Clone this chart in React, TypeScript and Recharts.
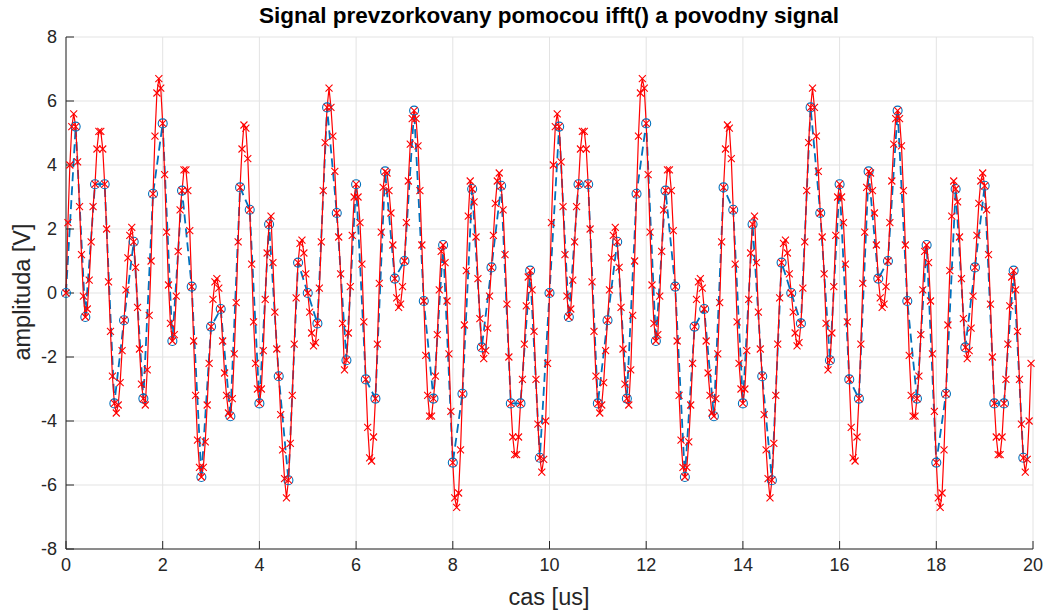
import { LineChart, Line, XAxis, YAxis, CartesianGrid } from 'recharts';

// casove znacky [us] a amplitudy [V]
const xTicks = [0, 2, 4, 6, 8, 10, 12, 14, 16, 18, 20];
const yTicks = [-8, -6, -4, -2, 0, 2, 4, 6, 8];

// povodny signal, krok 0.2 us, jedna perioda (0 .. 9.8 us)
const povodny = [
  0, 5.2, -0.75, 3.4, 3.4, -3.45, -0.85, 1.6, -3.3, 3.1,
  5.3, -1.5, 3.2, 0.2, -5.75, -1.05, -0.5, -3.85, 3.3, 2.6,
  -3.45, 2.15, -2.6, -5.85, 0.95, 0, -0.95, 5.8, 2.5, -2.1,
  3.4, -2.7, -3.3, 3.8, 0.45, 1.0, 5.7, -0.25, -3.3, 1.5,
  -5.3, -3.15, 3.25, -1.7, 0.8, 3.35, -3.45, -3.45, 0.7, -5.15,
];

// signal prevzorkovany pomocou ifft(), krok 0.04 us, jedna perioda
// (kazdy riadok = 0.2 us, prvy prvok lezi na vzorke povodneho signalu)
const prevzorkovany = [
  0, 2.2, 4.0, 5.2, 5.6,
  5.2, 4.1, 2.7, 1.2, -0.1,
  -0.75, -0.5, 0.4, 1.6, 2.7,
  3.4, 4.5, 5.05, 5.05, 4.5,
  3.4, 2.0, 0.35, -1.2, -2.6,
  -3.45, -3.75, -3.5, -2.8, -1.8,
  -0.85, 0.1, 1.1, 1.8, 2.05,
  1.6, 0.8, -0.45, -1.75, -2.85,
  -3.3, -3.5, -2.4, -0.7, 1.0,
  3.1, 4.9, 6.25, 6.7, 6.4,
  5.3, 3.7, 1.9, 0.25, -0.95,
  -1.5, -1.3, -0.1, 1.3, 2.6,
  3.2, 3.85, 3.85, 3.2, 1.95,
  0.2, -1.5, -3.2, -4.6, -5.45,
  -5.75, -5.45, -4.65, -3.5, -2.2,
  -1.05, -0.2, 0.35, 0.45, 0.15,
  -0.5, -1.5, -2.5, -3.2, -3.75,
  -3.85, -3.3, -1.9, -0.3, 1.6,
  3.3, 4.5, 5.25, 5.15, 4.2,
  2.6, 0.9, -0.9, -2.2, -3.0,
  -3.45, -3.0, -1.8, -0.2, 1.25,
  2.15, 2.4, 0.95, -0.6, -1.75,
  -2.6, -3.8, -4.9, -5.8, -6.4,
  -5.85, -4.7, -3.2, -1.6, -0.15,
  0.95, 1.55, 1.65, 1.25, 0.6,
  0, -0.6, -1.25, -1.65, -1.55,
  -0.95, 0.15, 1.6, 3.2, 4.7,
  5.8, 6.4, 5.8, 4.9, 3.8,
  2.5, 1.75, 0.6, -0.95, -2.4,
  -2.1, -1.25, 0.2, 1.8, 3.0,
  3.4, 3.0, 2.2, 0.9, -0.9,
  -2.7, -4.2, -5.15, -5.25, -4.5,
  -3.3, -1.6, 0.3, 1.9, 3.3,
  3.8, 3.75, 3.2, 2.5, 1.5,
  0.45, -0.15, -0.45, -0.35, 0.2,
  1.0, 2.2, 3.5, 4.65, 5.45,
  5.7, 5.45, 4.6, 3.2, 1.5,
  -0.25, -1.95, -3.2, -3.85, -3.85,
  -3.3, -2.6, -1.3, 0.1, 1.3,
  1.5, 0.95, -0.25, -1.9, -3.7,
  -5.3, -6.4, -6.7, -6.25, -4.9,
  -3.15, -1.0, 0.7, 2.4, 3.5,
  3.25, 2.85, 1.75, 0.45, -0.8,
  -1.7, -2.05, -1.8, -1.1, -0.1,
  0.8, 1.8, 2.8, 3.5, 3.75,
  3.35, 2.6, 1.2, -0.35, -2.0,
  -3.45, -4.5, -5.05, -5.05, -4.5,
  -3.45, -2.7, -1.6, -0.4, 0.5,
  0.7, 0.1, -1.2, -2.7, -4.1,
  -5.15, -5.6, -5.2, -4.0, -2.2,
];

// signal je periodicky (10 us), na grafe su dve periody
const blueData = [...povodny, ...povodny].map((v, i) => ({ t: Math.round(i * 2) / 10, v }));
const redData = [...prevzorkovany, ...prevzorkovany].map((v, i) => ({ t: Math.round(i * 4) / 100, v }));

const AXIS = '#262626';
const BLUE = '#0072BD';
const RED = '#ff0000';
const FONT = '"Liberation Sans", Arial, sans-serif';

const Circle = (props: any) => {
  const { cx, cy, index } = props;
  return <circle key={`o${index}`} cx={cx} cy={cy} r={4.5} fill="none" stroke={BLUE} strokeWidth={1.1} />;
};

const Cross = (props: any) => {
  const { cx, cy, index } = props;
  const s = 3.5;
  return (
    <path
      key={`x${index}`}
      d={`M${cx - s},${cy - s}L${cx + s},${cy + s}M${cx + s},${cy - s}L${cx - s},${cy + s}`}
      stroke={RED}
      strokeWidth={1.1}
      fill="none"
    />
  );
};

const tickStyle = { fill: AXIS, fontSize: 18, fontFamily: FONT };

export default function App() {
  return (
    <div style={{ position: 'absolute', left: 0, top: 0, width: 1050, height: 613, background: '#fff' }}>
      <LineChart width={1050} height={613} margin={{ top: 37, right: 17, bottom: 0, left: 0 }}>
        <CartesianGrid stroke="#e3e3e3" strokeWidth={1} />
        <XAxis
          dataKey="t"
          type="number"
          domain={[0, 20]}
          ticks={xTicks}
          height={64}
          stroke={AXIS}
          tickSize={-8}
          tickMargin={17}
          tick={tickStyle}
          interval={0}
        />
        <XAxis
          xAxisId="top"
          orientation="top"
          type="number"
          domain={[0, 20]}
          ticks={xTicks}
          height={0}
          stroke={AXIS}
          tickSize={-8}
          tick={false}
        />
        <YAxis
          type="number"
          domain={[-8, 8]}
          ticks={yTicks}
          width={66}
          stroke={AXIS}
          tickSize={-8}
          tickMargin={17}
          tick={tickStyle}
          interval={0}
        />
        <YAxis
          yAxisId="right"
          orientation="right"
          type="number"
          domain={[-8, 8]}
          ticks={yTicks}
          width={0}
          stroke={AXIS}
          tickSize={-8}
          tick={false}
        />
        <Line
          data={blueData}
          dataKey="v"
          type="linear"
          stroke={BLUE}
          strokeWidth={1.8}
          strokeDasharray="9 5"
          dot={Circle}
          activeDot={false}
          isAnimationActive={false}
        />
        <Line
          data={redData}
          dataKey="v"
          type="linear"
          stroke={RED}
          strokeWidth={1.2}
          dot={Cross}
          activeDot={false}
          isAnimationActive={false}
        />
      </LineChart>
      <div
        style={{
          position: 'absolute', left: 549, top: 3, transform: 'translateX(-50%)',
          whiteSpace: 'nowrap', fontFamily: FONT, fontWeight: 'bold', fontSize: 22.5, color: '#000',
        }}
      >
        Signal prevzorkovany pomocou ifft() a povodny signal
      </div>
      <div
        style={{
          position: 'absolute', left: 549, top: 584, transform: 'translateX(-50%)',
          whiteSpace: 'nowrap', fontFamily: FONT, fontSize: 23.5, color: AXIS,
        }}
      >
        cas [us]
      </div>
      <div
        style={{
          position: 'absolute', left: 22, top: 292, transform: 'translate(-50%, -50%) rotate(-90deg)',
          whiteSpace: 'nowrap', fontFamily: FONT, fontSize: 23.5, color: AXIS,
        }}
      >
        amplituda [V]
      </div>
    </div>
  );
}
